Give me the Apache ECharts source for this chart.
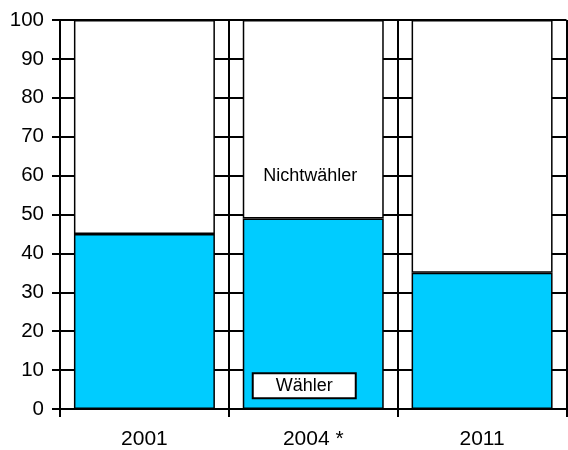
<!DOCTYPE html>
<html>
<head>
<meta charset="utf-8">
<script src="https://cdn.jsdelivr.net/npm/echarts@6/dist/echarts.min.js"></script>
<style>html,body{margin:0;padding:0;background:#fff}#c{width:568px;height:450px}</style>
</head>
<body>
<div id="c"></div>
<script>
const categories = ['2001', '2004 *', '2011'];
const waehler = [45, 49, 35];
const nichtwaehler = [55, 51, 65];
const yTicks = [0, 10, 20, 30, 40, 50, 60, 70, 80, 90, 100];
const seriesNames = ['Wähler', 'Nichtwähler'];
const labelCategory = '2004 *';
const waehlerLabelValue = 6;
const nichtwaehlerLabelValue = 60;

const chart = echarts.init(document.getElementById('c'), null, {renderer: 'canvas'});
const font = 'Arial, "Liberation Sans", sans-serif';
chart.setOption({
  animation: false,
  backgroundColor: '#fff',
  grid: {left: 60, right: 1.5, top: 20, bottom: 40.5, containLabel: false},
  xAxis: {
    type: 'category',
    data: categories,
    boundaryGap: true,
    axisLine: {show: true, lineStyle: {color: '#000', width: 2}},
    axisTick: {show: true, length: 8, inside: false, lineStyle: {color: '#000', width: 2}},
    splitLine: {show: true, interval: 0, lineStyle: {color: '#000', width: 2}},
    axisLabel: {color: '#000', fontSize: 21, fontFamily: font, margin: 20}
  },
  yAxis: {
    type: 'value',
    min: yTicks[0],
    max: yTicks[yTicks.length - 1],
    interval: 10,
    axisLine: {show: true, lineStyle: {color: '#000', width: 2}},
    axisTick: {show: true, length: 8, lineStyle: {color: '#000', width: 2}},
    splitLine: {show: true, lineStyle: {color: '#000', width: 2}},
    axisLabel: {color: '#000', fontSize: 20.5, fontFamily: font, margin: 16}
  },
  series: [
    {
      name: seriesNames[0],
      type: 'bar',
      stack: 'total',
      data: waehler,
      barWidth: '83.5%',
      itemStyle: {color: '#00CCFF', borderColor: '#000', borderWidth: 1.5},
      markPoint: {
        symbol: 'rect',
        symbolSize: 0,
        silent: true,
        data: [
          {
            coord: [labelCategory, waehlerLabelValue],
            label: {
              show: true,
              formatter: seriesNames[0],
              color: '#000',
              fontSize: 18,
              fontFamily: font,
              backgroundColor: '#fff',
              borderColor: '#000',
              borderWidth: 2,
              padding: [3, 22, 2, 22],
              offset: [-9, 0]
            }
          },
          {
            coord: [labelCategory, nichtwaehlerLabelValue],
            label: {
              show: true,
              formatter: seriesNames[1],
              color: '#000',
              fontSize: 18,
              fontFamily: font,
              offset: [-3, 0]
            }
          }
        ]
      }
    },
    {
      name: seriesNames[1],
      type: 'bar',
      stack: 'total',
      data: nichtwaehler,
      barWidth: '83.5%',
      itemStyle: {color: '#fff', borderColor: '#000', borderWidth: 1.5}
    }
  ]
});
</script>
</body>
</html>
